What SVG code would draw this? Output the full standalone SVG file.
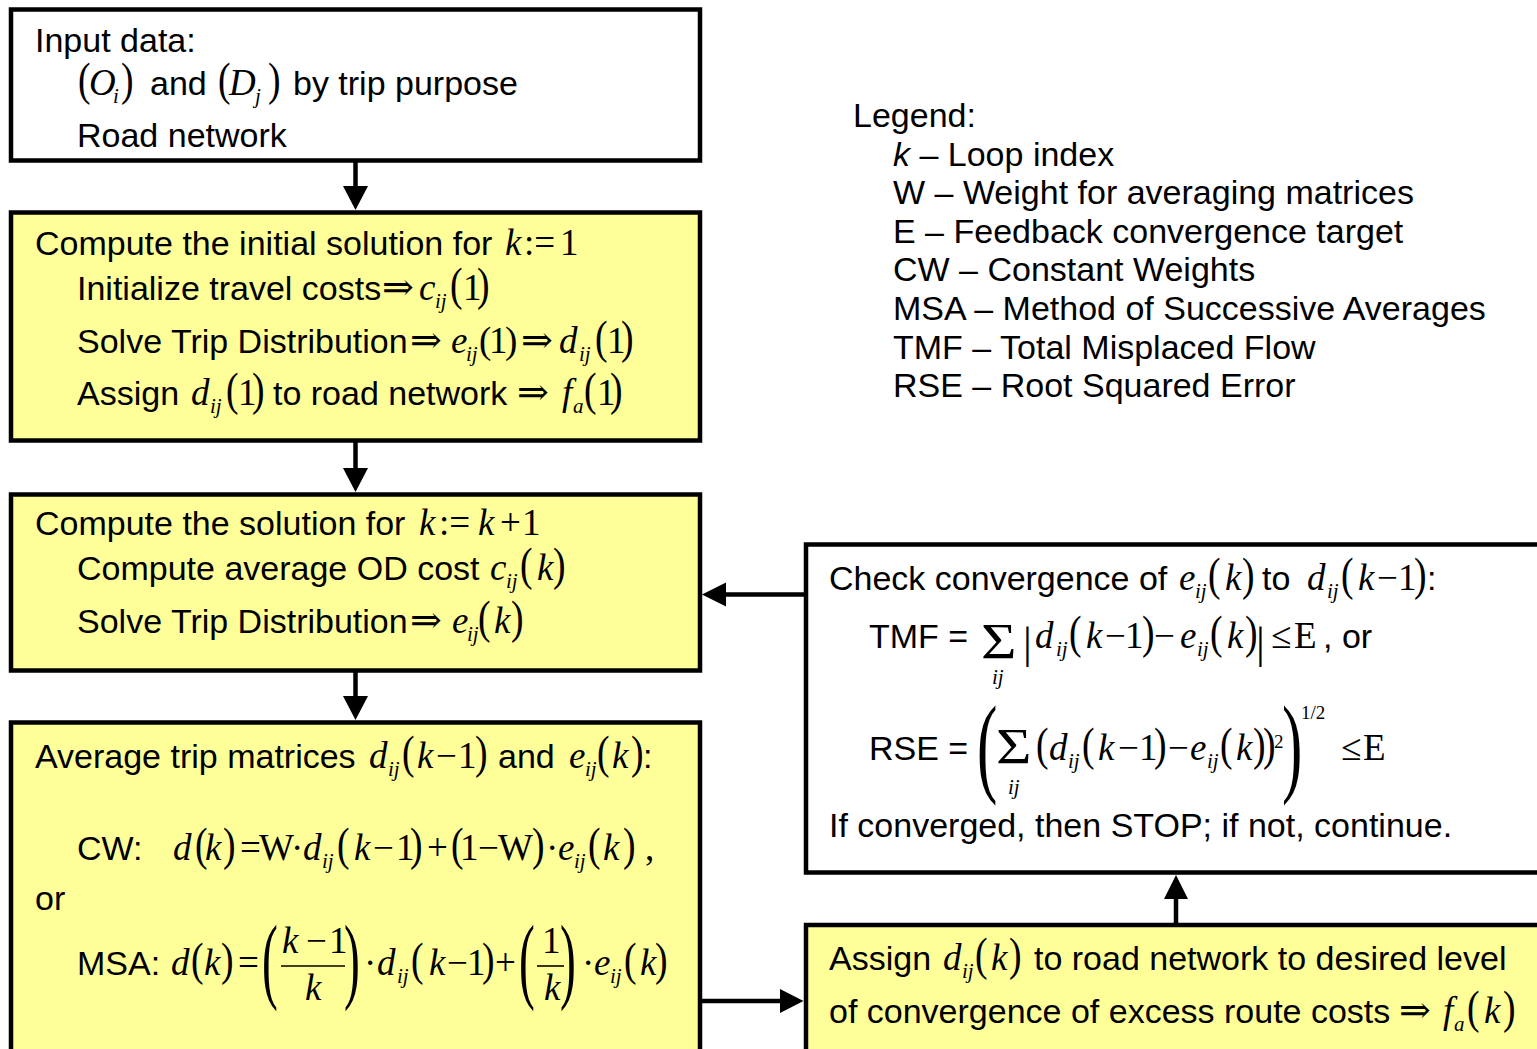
<svg xmlns="http://www.w3.org/2000/svg" width="1537" height="1049" viewBox="0 0 1537 1049">
<style>
.box{stroke:#000;stroke-width:4.5}
.white{fill:#fff}
.yel{fill:#ffff99}
.t{font-family:"Liberation Sans",Arial,Helvetica,sans-serif;font-size:34px;fill:#000}
.m{font-family:"Liberation Serif","Times New Roman",serif;font-size:37px;fill:#000}
.i{font-style:italic}
.s{font-size:21px;font-style:italic}
.sup{font-family:"Liberation Serif","Times New Roman",serif;font-size:19px;fill:#000}
.ar{font-family:"Liberation Serif","DejaVu Serif",serif;font-size:38px;fill:#000}
.pp{font-family:"Liberation Serif","Times New Roman",serif;font-size:47px;fill:#000}
.bp{font-family:"Liberation Serif","Times New Roman",serif;font-size:95px;fill:#000}
.bq{font-family:"Liberation Serif","Times New Roman",serif;font-size:111px;fill:#000}
.sig{font-family:"Liberation Serif","Times New Roman",serif;font-size:50px;fill:#000}
.bar{font-family:"Liberation Serif","Times New Roman",serif;font-size:44px;fill:#000}
.frac{stroke:#000;stroke-width:1.6}
#connectors line{stroke:#000;stroke-width:4.5}
#connectors polygon{fill:#000}
</style>
<defs>
<!-- stretched parentheses used around math terms -->
<text id="lp" class="pp" transform="scale(0.8 1)">(</text>
<text id="rp" class="pp" transform="scale(0.8 1)">)</text>
<text id="blp" class="bp" transform="scale(0.5 1)">(</text>
<text id="brp" class="bp" transform="scale(0.5 1)">)</text>
<text id="qlp" class="bq" transform="scale(0.55 1)">(</text>
<text id="qrp" class="bq" transform="scale(0.55 1)">)</text>
</defs>

<rect width="1537" height="1049" fill="#fff"/>

<!-- Input data -->
<g id="input">
<rect class="box white" x="11" y="9.5" width="689" height="151"/>
<text class="t" x="35" y="52">Input data:</text>
<use href="#lp" x="78" y="95"/>
<text class="m"><tspan class="i" x="89" y="95">O</tspan><tspan class="s" x="113" y="103">i</tspan></text>
<use href="#rp" x="121" y="95"/>
<text class="t" x="150" y="95">and</text>
<use href="#lp" x="218" y="95"/>
<text class="m"><tspan class="i" x="229" y="95">D</tspan><tspan class="s" x="255" y="103">j</tspan></text>
<use href="#rp" x="268" y="95"/>
<text class="t" x="293" y="95">by trip purpose</text>
<text class="t" x="77" y="147">Road network</text>
</g>

<!-- Initial solution -->
<g id="init">
<rect class="box yel" x="11" y="212.5" width="689" height="228"/>
<text class="t" x="35" y="255">Compute the initial solution for</text>
<text class="m"><tspan class="i" x="505" y="255">k</tspan><tspan x="524" y="255">:=</tspan><tspan x="560" y="255">1</tspan></text>

<text class="t" x="77" y="300">Initialize travel costs</text>
<text class="ar" x="382" y="300">⇒</text>
<text class="m"><tspan class="i" x="419" y="300">c</tspan><tspan class="s" x="435" y="308">ij</tspan><tspan x="463" y="300">1</tspan></text>
<use href="#lp" x="450" y="300"/><use href="#rp" x="477" y="300"/>

<text class="t" x="77" y="353">Solve Trip Distribution</text>
<text class="ar" x="410" y="353">⇒</text>
<text class="m"><tspan class="i" x="451" y="353">e</tspan><tspan class="s" x="466" y="361">ij</tspan><tspan x="479" y="353">(</tspan><tspan x="489" y="353">1</tspan><tspan x="505" y="353">)</tspan></text>
<text class="ar" x="521" y="353">⇒</text>
<text class="m"><tspan class="i" x="559" y="353">d</tspan><tspan class="s" x="579" y="361">ij</tspan><tspan x="607" y="353">1</tspan></text>
<use href="#lp" x="595" y="353"/><use href="#rp" x="621" y="353"/>

<text class="t" x="77" y="405">Assign</text>
<text class="m"><tspan class="i" x="191" y="405">d</tspan><tspan class="s" x="210" y="413">ij</tspan><tspan x="238" y="405">1</tspan></text>
<use href="#lp" x="226" y="405"/><use href="#rp" x="252" y="405"/>
<text class="t" x="273" y="405">to road network</text>
<text class="ar" x="517" y="405">⇒</text>
<text class="m"><tspan class="i" x="562" y="405">f</tspan><tspan class="s" x="573" y="413">a</tspan><tspan x="597" y="405">1</tspan></text>
<use href="#lp" x="584" y="405"/><use href="#rp" x="610" y="405"/>
</g>

<!-- Iteration k+1 -->
<g id="iter">
<rect class="box yel" x="11" y="494.5" width="689" height="176"/>
<text class="t" x="35" y="535">Compute the solution for</text>
<text class="m"><tspan class="i" x="419" y="535">k</tspan><tspan x="439" y="535">:=</tspan><tspan class="i" x="478" y="535">k</tspan><tspan x="500" y="535">+</tspan><tspan x="522" y="535">1</tspan></text>

<text class="t" x="77" y="580">Compute average OD cost</text>
<text class="m"><tspan class="i" x="490" y="580">c</tspan><tspan class="s" x="506" y="588">ij</tspan><tspan class="i" x="537" y="580">k</tspan></text>
<use href="#lp" x="520" y="580"/><use href="#rp" x="553" y="580"/>

<text class="t" x="77" y="633">Solve Trip Distribution</text>
<text class="ar" x="410" y="633">⇒</text>
<text class="m"><tspan class="i" x="452" y="633">e</tspan><tspan class="s" x="467" y="641">ij</tspan><tspan class="i" x="494" y="633">k</tspan></text>
<use href="#lp" x="478" y="633"/><use href="#rp" x="511" y="633"/>
</g>

<!-- Averaging of trip matrices -->
<g id="average">
<rect class="box yel" x="11" y="722.5" width="689" height="400"/>
<text class="t" x="35" y="768">Average trip matrices</text>
<text class="m"><tspan class="i" x="369" y="768">d</tspan><tspan class="s" x="388" y="776">ij</tspan><tspan class="i" x="417" y="768">k</tspan><tspan x="436" y="768">−</tspan><tspan x="458" y="768">1</tspan></text>
<use href="#lp" x="402" y="768"/><use href="#rp" x="475" y="768"/>
<text class="t" x="498" y="768">and</text>
<text class="m"><tspan class="i" x="569" y="768">e</tspan><tspan class="s" x="585" y="776">ij</tspan><tspan class="i" x="612" y="768">k</tspan></text>
<use href="#lp" x="597" y="768"/><use href="#rp" x="631" y="768"/>
<text class="t" x="643" y="768">:</text>

<text class="t" x="77" y="860">CW:</text>
<text class="m"><tspan class="i" x="173" y="860">d</tspan><tspan class="i" x="205" y="860">k</tspan><tspan x="240" y="860">=</tspan><tspan x="259" y="860">W</tspan><tspan x="291" y="860">·</tspan><tspan class="i" x="303" y="860">d</tspan><tspan class="s" x="322" y="868">ij</tspan><tspan class="i" x="354" y="860">k</tspan><tspan x="373" y="860">−</tspan><tspan x="396" y="860">1</tspan><tspan x="427" y="860">+</tspan><tspan x="460" y="860">1</tspan><tspan x="478" y="860">−</tspan><tspan x="498" y="860">W</tspan><tspan x="546" y="860">·</tspan><tspan class="i" x="558" y="860">e</tspan><tspan class="s" x="574" y="868">ij</tspan><tspan class="i" x="603" y="860">k</tspan><tspan x="645" y="860">,</tspan></text>
<use href="#lp" x="195" y="860"/><use href="#rp" x="223" y="860"/>
<use href="#lp" x="337" y="860"/><use href="#rp" x="410" y="860"/>
<use href="#lp" x="451" y="860"/><use href="#rp" x="532" y="860"/>
<use href="#lp" x="588" y="860"/><use href="#rp" x="623" y="860"/>

<text class="t" x="35" y="910">or</text>

<text class="t" x="77" y="975">MSA:</text>
<text class="m"><tspan class="i" x="171" y="975">d</tspan><tspan class="i" x="204" y="975">k</tspan><tspan x="238" y="975">=</tspan><tspan class="i" x="282" y="953">k</tspan><tspan x="306" y="953">−</tspan><tspan x="329" y="953">1</tspan><tspan class="i" x="305" y="1000">k</tspan><tspan x="364" y="975">·</tspan><tspan class="i" x="377" y="975">d</tspan><tspan class="s" x="397" y="983">ij</tspan><tspan class="i" x="429" y="975">k</tspan><tspan x="447" y="975">−</tspan><tspan x="467" y="975">1</tspan><tspan x="495" y="975">+</tspan><tspan x="542" y="953">1</tspan><tspan class="i" x="544" y="1000">k</tspan><tspan x="582" y="975">·</tspan><tspan class="i" x="594" y="975">e</tspan><tspan class="s" x="610" y="983">ij</tspan><tspan class="i" x="640" y="975">k</tspan></text>
<use href="#lp" x="191" y="975"/><use href="#rp" x="221" y="975"/>
<use href="#blp" x="262" y="991"/><use href="#brp" x="344" y="991"/>
<line class="frac" x1="281" y1="966" x2="345" y2="966"/>
<use href="#lp" x="411" y="975"/><use href="#rp" x="482" y="975"/>
<use href="#blp" x="519" y="991"/><use href="#brp" x="560" y="991"/>
<line class="frac" x1="537" y1="966" x2="564" y2="966"/>
<use href="#lp" x="624" y="975"/><use href="#rp" x="655" y="975"/>
</g>

<!-- Convergence check -->
<g id="check">
<rect class="box white" x="806" y="544.5" width="800" height="328"/>
<text class="t" x="829" y="590">Check convergence of</text>
<text class="m"><tspan class="i" x="1179" y="590">e</tspan><tspan class="s" x="1195" y="598">ij</tspan><tspan class="i" x="1225" y="590">k</tspan></text>
<use href="#lp" x="1208" y="590"/><use href="#rp" x="1242" y="590"/>
<text class="t" x="1262" y="590">to</text>
<text class="m"><tspan class="i" x="1307" y="590">d</tspan><tspan class="s" x="1327" y="598">ij</tspan><tspan class="i" x="1358" y="590">k</tspan><tspan x="1377" y="590">−</tspan><tspan x="1398" y="590">1</tspan></text>
<use href="#lp" x="1341" y="590"/><use href="#rp" x="1414" y="590"/>
<text class="t" x="1427" y="590">:</text>

<text class="t" x="869" y="648">TMF =</text>
<text class="sig" transform="translate(981 658) scale(1.22 1)">Σ</text>
<text class="m"><tspan class="s" x="992" y="684">ij</tspan></text>
<text class="bar" x="1023" y="658">|</text>
<text class="m"><tspan class="i" x="1035" y="648">d</tspan><tspan class="s" x="1056" y="656">ij</tspan><tspan class="i" x="1086" y="648">k</tspan><tspan x="1105" y="648">−</tspan><tspan x="1125" y="648">1</tspan><tspan x="1154" y="648">−</tspan><tspan class="i" x="1180" y="648">e</tspan><tspan class="s" x="1197" y="656">ij</tspan><tspan class="i" x="1227" y="648">k</tspan><tspan x="1271" y="648">≤</tspan><tspan x="1294" y="648">E</tspan></text>
<use href="#lp" x="1069" y="648"/><use href="#rp" x="1142" y="648"/>
<use href="#lp" x="1210" y="648"/><use href="#rp" x="1245" y="648"/>
<text class="bar" x="1256" y="658">|</text>
<text class="t" x="1323" y="648">, or</text>

<text class="t" x="869" y="760">RSE =</text>
<use href="#qlp" x="977" y="782"/>
<text class="sig" transform="translate(996 763) scale(1.22 1)">Σ</text>
<text class="m"><tspan class="s" x="1008" y="794">ij</tspan></text>
<text class="m"><tspan class="i" x="1049" y="760">d</tspan><tspan class="s" x="1068" y="768">ij</tspan><tspan class="i" x="1098" y="760">k</tspan><tspan x="1118" y="760">−</tspan><tspan x="1139" y="760">1</tspan><tspan x="1168" y="760">−</tspan><tspan class="i" x="1190" y="760">e</tspan><tspan class="s" x="1207" y="768">ij</tspan><tspan class="i" x="1236" y="760">k</tspan><tspan x="1341" y="760">≤</tspan><tspan x="1363" y="760">E</tspan></text>
<use href="#lp" x="1036" y="760"/>
<use href="#lp" x="1082" y="760"/><use href="#rp" x="1154" y="760"/>
<use href="#lp" x="1220" y="760"/><use href="#rp" x="1253" y="760"/>
<use href="#rp" x="1263" y="760"/>
<text class="sup" x="1274" y="748">2</text>
<use href="#qrp" x="1282" y="782"/>
<text class="sup" x="1301" y="719">1/2</text>

<text class="t" x="829" y="837">If converged, then STOP; if not, continue.</text>
</g>

<!-- Assignment to the road network -->
<g id="assign">
<rect class="box yel" x="806" y="925" width="800" height="300"/>
<text class="t" x="829" y="970">Assign</text>
<text class="m"><tspan class="i" x="943" y="970">d</tspan><tspan class="s" x="962" y="978">ij</tspan><tspan class="i" x="991" y="970">k</tspan></text>
<use href="#lp" x="975" y="970"/><use href="#rp" x="1009" y="970"/>
<text class="t" x="1034" y="970">to road network to desired level</text>
<text class="t" x="829" y="1023">of convergence of excess route costs</text>
<text class="ar" x="1399" y="1023">⇒</text>
<text class="m"><tspan class="i" x="1443" y="1023">f</tspan><tspan class="s" x="1454" y="1031">a</tspan><tspan class="i" x="1484" y="1023">k</tspan></text>
<use href="#lp" x="1467" y="1023"/><use href="#rp" x="1503" y="1023"/>
</g>

<!-- Legend -->
<g id="legend">
<text class="t" x="853" y="127">Legend:</text>
<text class="t" x="893" y="165.6"><tspan font-style="italic">k</tspan> – Loop index</text>
<text class="t" x="893" y="204.2">W – Weight for averaging matrices</text>
<text class="t" x="893" y="242.8">E – Feedback convergence target</text>
<text class="t" x="893" y="281.4">CW – Constant Weights</text>
<text class="t" x="893" y="320">MSA – Method of Successive Averages</text>
<text class="t" x="893" y="358.6">TMF – Total Misplaced Flow</text>
<text class="t" x="893" y="397.2">RSE – Root Squared Error</text>
</g>

<!-- Flow connectors -->
<g id="connectors">
<line x1="355.5" y1="160" x2="355.5" y2="188"/>
<polygon points="343,186 368,186 355.5,210"/>
<line x1="355.5" y1="440" x2="355.5" y2="470"/>
<polygon points="343,468 368,468 355.5,492"/>
<line x1="355.5" y1="670" x2="355.5" y2="698"/>
<polygon points="343,696 368,696 355.5,720"/>
<line x1="806" y1="594.5" x2="724" y2="594.5"/>
<polygon points="702,594.5 726,582.5 726,606.5"/>
<line x1="700" y1="1001" x2="782" y2="1001"/>
<polygon points="803.5,1001 780,989 780,1013"/>
<line x1="1176" y1="925" x2="1176" y2="897"/>
<polygon points="1164,899 1188,899 1176,875"/>
</g>
</svg>
